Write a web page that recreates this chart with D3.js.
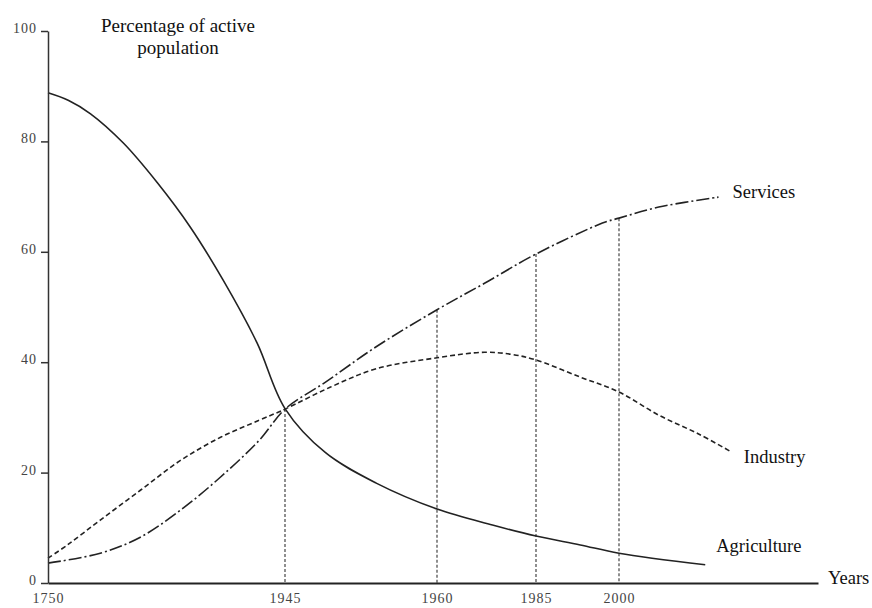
<!DOCTYPE html>
<html>
<head>
<meta charset="utf-8">
<script src="https://cdn.jsdelivr.net/npm/d3@7"></script>
<style>
  body { margin: 0; background: #fff; }
  svg { display: block; font-family: "Liberation Serif", "DejaVu Serif", serif; }
</style>
</head>
<body>
<svg id="chart"></svg>
<script>
// values (percent of active population)
const xTickYears = [1750, 1945, 1960, 1985, 2000];
const yTickValues = [0, 20, 40, 60, 80, 100];
const dropYears = [1945, 1960, 1985, 2000];

const agricultureYears = [1750, 1767, 1785, 1812, 1840, 1867, 1894, 1922, 1945, 1949, 1954, 1960, 1974, 1985, 1993, 2000, 2013];
const agricultureShare = [88.8, 87.4, 85.0, 79.7, 72.5, 64.5, 54.9, 43.5, 31.6, 23.6, 18.1, 13.4, 10.5, 8.5, 6.9, 5.4, 3.3];

const industryYears = [1750, 1766, 1793, 1826, 1859, 1892, 1924, 1945, 1949.5, 1954, 1960, 1972, 1979, 1985, 1993, 2000, 2006, 2012, 2017];
const industryShare = [4.5, 6.9, 11.4, 16.8, 22.2, 26.4, 29.5, 31.5, 35.5, 38.8, 40.8, 41.8, 41.4, 40.4, 37.3, 34.6, 30.4, 27.0, 23.7];

const servicesYears = [1750, 1793, 1826, 1859, 1892, 1924, 1945, 1949, 1954, 1960, 1972, 1985, 1997, 2000, 2006, 2015];
const servicesShare = [3.6, 5.4, 8.3, 13.2, 19.2, 25.9, 31.5, 36.4, 42.8, 49.5, 54.3, 59.6, 65.2, 66.1, 68.1, 69.9];

const width = 872;
const height = 608;
const margin = {top: 31, left: 48};
const innerH = 552;

const svg = d3.select('#chart')
    .attr('width', width)
    .attr('height', height);

const g = svg.append('g')
    .attr('transform', `translate(${margin.left},${margin.top})`);

// the time axis in the figure is schematic, so it is piecewise linear
const x = d3.scaleLinear()
    .domain([1750, 1945, 1960, 1985, 2000, 2030])
    .range([0, 237, 389, 488, 571, 770]);

const y = d3.scaleLinear()
    .domain([0, 100])
    .range([innerH, 0]);

const zip = (xs, vs) => xs.map((yr, i) => ({year: yr, value: vs[i]}));

const series = [
    {name: 'Agriculture', data: zip(agricultureYears, agricultureShare), dash: null, dx: 11, dy: -13},
    {name: 'Industry', data: zip(industryYears, industryShare), dash: '5,3', dx: 12, dy: 11},
    {name: 'Services', data: zip(servicesYears, servicesShare), dash: '13,3,2,3', dx: 14, dy: 0.5},
];

const line = d3.line()
    .x((d) => x(d.year))
    .y((d) => y(d.value))
    .curve(d3.curveCatmullRom.alpha(0.5));

// vertical dotted guides drop from the services curve
const servicesAt = (yr) => servicesShare[servicesYears.indexOf(yr)];
g.selectAll('.drop')
    .data(dropYears)
    .join('line')
    .attr('class', 'drop')
    .attr('x1', (d) => x(d))
    .attr('x2', (d) => x(d))
    .attr('y1', (d) => y(servicesAt(d)))
    .attr('y2', y(0))
    .attr('stroke', '#333')
    .attr('stroke-width', 1.1)
    .attr('stroke-dasharray', '3,2');

g.selectAll('.series')
    .data(series)
    .join('path')
    .attr('class', 'series')
    .attr('d', (s) => line(s.data))
    .attr('fill', 'none')
    .attr('stroke', '#222')
    .attr('stroke-width', 1.6)
    .attr('stroke-dasharray', (s) => s.dash);

g.selectAll('.series-label')
    .data(series)
    .join('text')
    .attr('class', 'series-label')
    .attr('x', (s) => x(s.data[s.data.length - 1].year) + s.dx)
    .attr('y', (s) => y(s.data[s.data.length - 1].value) + s.dy)
    .attr('font-size', 18.5)
    .attr('fill', '#111')
    .text((s) => s.name);

// y axis
const yAxis = g.append('g')
    .call(d3.axisLeft(y)
        .tickValues(yTickValues)
        .tickSize(7)
        .tickSizeOuter(0)
        .tickPadding(4));
yAxis.select('.domain').attr('stroke', '#333').attr('stroke-width', 1.5);
yAxis.selectAll('.tick line').attr('stroke', '#333').attr('stroke-width', 1.5);
yAxis.selectAll('.tick text')
    .attr('font-family', '"Liberation Serif", serif')
    .attr('font-size', 14)
    .attr('letter-spacing', 1)
    .attr('fill', '#444')
    .attr('dy', '0.1em');

// x axis
const xAxis = g.append('g')
    .attr('transform', `translate(0,${innerH})`)
    .call(d3.axisBottom(x)
        .tickValues(xTickYears)
        .tickFormat(d3.format('d'))
        .tickSize(0)
        .tickPadding(10));
xAxis.select('.domain').attr('stroke', '#222').attr('stroke-width', 2);
xAxis.selectAll('.tick text')
    .attr('font-family', '"Liberation Serif", serif')
    .attr('font-size', 14)
    .attr('letter-spacing', 1)
    .attr('fill', '#444');

const xEnd = x.range()[x.range().length - 1];
g.append('text')
    .attr('x', xEnd + 10)
    .attr('y', innerH + 1)
    .attr('font-size', 18.5)
    .attr('fill', '#111')
    .text('Years');

const title = g.append('text')
    .attr('x', 130)
    .attr('y', 1)
    .attr('text-anchor', 'middle')
    .attr('font-size', 19)
    .attr('fill', '#111');
title.append('tspan').attr('x', 130).text('Percentage of active');
title.append('tspan').attr('x', 130).attr('dy', 22).text('population');
</script>
</body>
</html>
